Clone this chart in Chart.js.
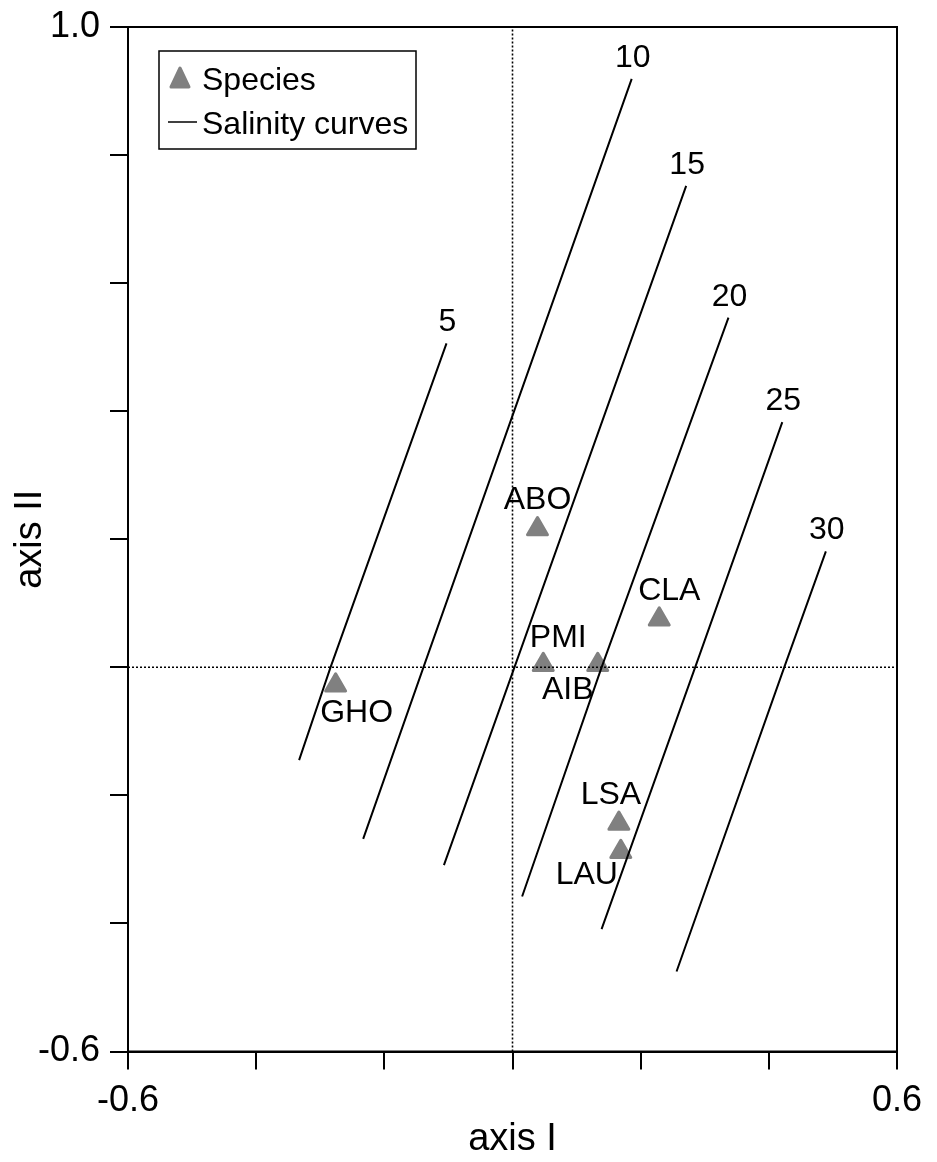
<!DOCTYPE html>
<html>
<head>
<meta charset="utf-8">
<script src="https://cdn.jsdelivr.net/npm/chart.js@4.4.1/dist/chart.umd.min.js"></script>
<style>
  body { margin: 0; background: #fff; }
  canvas { display: block; }
</style>
</head>
<body>
<canvas id="ordination" width="937" height="1162"></canvas>
<script>
// salinity isolines: lower end, crossing of axis I, upper end
const salinity = [5, 10, 15, 20, 25, 30];
const curveX = [
  [-0.333, -0.284, -0.103],
  [-0.233, -0.139, 0.186],
  [-0.107, 0.003, 0.271],
  [0.015, 0.139, 0.337],
  [0.139, 0.285, 0.421],
  [0.256, 0.424, 0.489]
];
const curveY = [
  [-0.145, 0, 0.506],
  [-0.268, 0, 0.919],
  [-0.309, 0, 0.752],
  [-0.358, 0, 0.546],
  [-0.409, 0, 0.383],
  [-0.475, 0, 0.181]
];

// species scores
const species = ['ABO', 'PMI', 'AIB', 'CLA', 'GHO', 'LSA', 'LAU'];
const speciesX = [0.039, 0.048, 0.133, 0.229, -0.276, 0.166, 0.169];
const speciesY = [0.216, 0.004, 0.004, 0.075, -0.028, -0.244, -0.288];

// only the ends of each axis carry a number
const xTickLabels = [-0.6, 0.6];
const yTickLabels = [-0.6, 1.0];

// where each species name sits relative to its marker (px)
const nameShift = {
  ABO: [0, -29], PMI: [15, -27], AIB: [-30, 25], CLA: [10, -28],
  GHO: [21, 28], LSA: [-8, -28], LAU: [-34, 23]
};

const FONT = '"Liberation Sans", Arial, Helvetica, sans-serif';
const GREY = '#808080';

const datasets = [];

// dotted lines through the origin
datasets.push({
  type: 'line', data: [{ x: 0, y: -0.6 }, { x: 0, y: 1.0 }],
  borderColor: '#000', borderWidth: 1.6, borderDash: [2, 2], pointRadius: 0
});
datasets.push({
  type: 'line', data: [{ x: -0.6, y: 0 }, { x: 0.6, y: 0 }],
  borderColor: '#000', borderWidth: 1.6, borderDash: [2, 2], pointRadius: 0
});

salinity.forEach((s, i) => {
  datasets.push({
    type: 'line',
    label: String(s),
    data: curveX[i].map((x, k) => ({ x: x, y: curveY[i][k] })),
    borderColor: '#000',
    borderWidth: 2,
    pointRadius: 0,
    tension: 0
  });
});

datasets.push({
  type: 'scatter',
  label: 'Species',
  data: speciesX.map((x, i) => ({ x: x, y: speciesY[i] })),
  pointStyle: 'triangle',
  pointRadius: 11.5,
  pointBackgroundColor: GREY,
  pointBorderColor: GREY,
  pointBorderWidth: 3,
  isSpecies: true
});

const annotate = {
  id: 'annotate',
  // rounded corners on the triangles
  beforeDatasetDraw(chart, args) {
    if (args.meta._dataset && args.meta._dataset.isSpecies) chart.ctx.lineJoin = 'round';
  },
  afterDatasetDraw(chart) {
    chart.ctx.lineJoin = 'miter';
  },
  afterDatasetsDraw(chart) {
    const { ctx, chartArea: a, scales } = chart;
    const xs = scales.x, ys = scales.y;
    ctx.save();

    // box round the plot
    ctx.strokeStyle = '#000';
    ctx.lineWidth = 2;
    ctx.strokeRect(a.left, a.top, a.right - a.left, a.bottom - a.top);

    // salinity values above the upper end of each curve
    ctx.fillStyle = '#000';
    ctx.font = '32px ' + FONT;
    ctx.textAlign = 'center';
    ctx.textBaseline = 'middle';
    salinity.forEach((s, i) => {
      const last = curveX[i].length - 1;
      const px = xs.getPixelForValue(curveX[i][last]);
      const py = ys.getPixelForValue(curveY[i][last]);
      ctx.fillText(String(s), px + 1, py - 21);
    });

    // species names
    ctx.font = '32px ' + FONT;
    species.forEach((name, i) => {
      const px = xs.getPixelForValue(speciesX[i]);
      const py = ys.getPixelForValue(speciesY[i]);
      const d = nameShift[name];
      ctx.fillText(name, px + d[0], py + d[1]);
    });

    // legend
    const lx = a.left + 31, ly = a.top + 24;
    ctx.fillStyle = '#fff';
    ctx.fillRect(lx, ly, 257, 98);
    ctx.strokeStyle = '#000';
    ctx.lineWidth = 1.5;
    ctx.strokeRect(lx, ly, 257, 98);

    ctx.fillStyle = GREY;
    ctx.strokeStyle = GREY;
    ctx.lineWidth = 3;
    ctx.lineJoin = 'round';
    ctx.beginPath();
    ctx.moveTo(lx + 21, ly + 17);
    ctx.lineTo(lx + 30, ly + 36);
    ctx.lineTo(lx + 12, ly + 36);
    ctx.closePath();
    ctx.fill();
    ctx.stroke();

    ctx.strokeStyle = '#000';
    ctx.lineWidth = 1.5;
    ctx.beginPath();
    ctx.moveTo(lx + 9, ly + 71);
    ctx.lineTo(lx + 38, ly + 71);
    ctx.stroke();

    ctx.fillStyle = '#000';
    ctx.textAlign = 'left';
    ctx.textBaseline = 'alphabetic';
    ctx.fillText('Species', lx + 43, ly + 38.5);
    ctx.fillText('Salinity curves', lx + 43, ly + 82.5);

    ctx.restore();
  }
};

function endLabel(list) {
  return function (value) {
    return list.some(t => Math.abs(t - value) < 1e-6) ? value.toFixed(1) : '';
  };
}

new Chart(document.getElementById('ordination'), {
  type: 'scatter',
  data: { datasets: datasets },
  options: {
    responsive: false,
    animation: false,
    layout: { padding: { top: 27, right: 40, left: 4, bottom: 0 } },
    plugins: { legend: { display: false }, tooltip: { enabled: false } },
    scales: {
      x: {
        type: 'linear', min: -0.6, max: 0.6,
        afterFit(scale) { scale.height = 110.5; },
        ticks: {
          stepSize: 0.2, autoSkip: false, maxRotation: 0, padding: 10,
          color: '#000', font: { family: FONT, size: 36 },
          callback: endLabel(xTickLabels)
        },
        grid: { drawOnChartArea: false, drawTicks: true, tickLength: 18, color: '#000', lineWidth: 2 },
        border: { display: true, color: '#000', width: 2 },
        title: { display: true, text: 'axis I', color: '#000', font: { family: FONT, size: 38 }, padding: { top: 0, bottom: 0 } }
      },
      y: {
        type: 'linear', min: -0.6, max: 1.0,
        // fixed width, and let the top label overhang the padding
        afterFit(scale) {
          scale.width = 124;
          scale.paddingTop = 0;
          scale.paddingBottom = 0;
        },
        ticks: {
          stepSize: 0.2, autoSkip: false, padding: 10,
          color: '#000', font: { family: FONT, size: 36 },
          callback: endLabel(yTickLabels)
        },
        grid: { drawOnChartArea: false, drawTicks: true, tickLength: 18, color: '#000', lineWidth: 2 },
        border: { display: true, color: '#000', width: 2 },
        title: { display: true, text: 'axis II', color: '#000', font: { family: FONT, size: 38 }, padding: { top: 4, bottom: 0 } }
      }
    }
  },
  plugins: [annotate]
});
</script>
</body>
</html>
